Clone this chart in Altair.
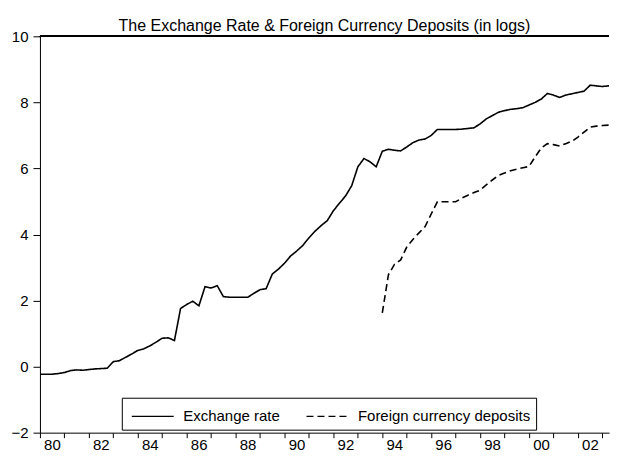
import altair as alt
import pandas as pd

# Quarterly observations (decimal year)
er_start = 1980.0
exchange_rate = [
    -0.23, -0.23, -0.23, -0.21,   # 1980
    -0.18, -0.12, -0.10, -0.11,   # 1981
    -0.09, -0.07, -0.06, -0.05,   # 1982
    0.15, 0.18, 0.28, 0.38,       # 1983
    0.49, 0.54, 0.63, 0.74,       # 1984
    0.86, 0.87, 0.79, 1.76,       # 1985
    1.88, 1.98, 1.84, 2.42,       # 1986
    2.38, 2.45, 2.12, 2.10,       # 1987
    2.10, 2.10, 2.10, 2.22,       # 1988
    2.33, 2.36, 2.80, 2.95,       # 1989
    3.13, 3.35, 3.50, 3.67,       # 1990
    3.90, 4.10, 4.27, 4.42,       # 1991
    4.72, 4.95, 5.17, 5.48,       # 1992
    6.05, 6.30, 6.20, 6.05,       # 1993
    6.52, 6.58, 6.55, 6.53,       # 1994
    6.65, 6.78, 6.86, 6.89,       # 1995
    7.00, 7.18, 7.18, 7.18,       # 1996
    7.18, 7.19, 7.21, 7.23,       # 1997
    7.35, 7.50, 7.60, 7.70,       # 1998
    7.75, 7.79, 7.81, 7.84,       # 1999
    7.92, 8.00, 8.10, 8.27,       # 2000
    8.22, 8.15, 8.22, 8.26,       # 2001
    8.30, 8.34, 8.52, 8.50,       # 2002
    8.48, 8.50, 8.52,             # 2003
]

fx_start = 1994.0
foreign_deposits = [
    1.63, 2.78, 3.10, 3.23,       # 1994
    3.62, 3.85, 4.05, 4.24,       # 1995
    4.62, 4.99, 4.99, 4.99,       # 1996
    4.99, 5.10, 5.19, 5.27,       # 1997
    5.34, 5.50, 5.65, 5.79,       # 1998
    5.86, 5.93, 5.98, 6.02,       # 1999
    6.06, 6.35, 6.62, 6.75,       # 2000
    6.72, 6.68, 6.75, 6.82,       # 2001
    6.95, 7.10, 7.25, 7.28,       # 2002
    7.30, 7.31, 7.32,             # 2003
]

series_names = ["Exchange rate", "Foreign currency deposits"]
y_ticks = [-2, 0, 2, 4, 6, 8, 10]
x_ticks = list(range(1980, 2004))

rows = []
for i, v in enumerate(exchange_rate):
    rows.append({"t": er_start + i * 0.25, "v": v, "series": series_names[0]})
for i, v in enumerate(foreign_deposits):
    rows.append({"t": fx_start + i * 0.25, "v": v, "series": series_names[1]})
df = pd.DataFrame(rows)

FONT = "Liberation Sans"

x_scale = alt.Scale(domain=[1980, 2003.27], nice=False, zero=False)
y_scale = alt.Scale(domain=[-2, 10], nice=False)

lines = alt.Chart(df).mark_line(color="black", strokeWidth=1.6, clip=True).encode(
    x=alt.X("t:Q", scale=x_scale,
            axis=alt.Axis(values=x_ticks, format="d", title=None, grid=False,
                          labelExpr="datum.value % 2 == 0 ? substring(datum.label, 2) : ''",
                          labelOffset={"condition": {"test": "datum.value % 2 == 1", "value": 0},
                                       "value": 12},
                          labelOverlap=False, labelFlush=False,
                          tickSize=5, labelPadding=0, labelFontSize=15,
                          labelFont=FONT, labelColor="black",
                          domainColor="black", tickColor="black")),
    y=alt.Y("v:Q", scale=y_scale,
            axis=alt.Axis(values=y_ticks, title=None, grid=False, tickSize=7,
                          labelPadding=5, labelFontSize=15, labelFont=FONT,
                          labelColor="black", domainColor="black", tickColor="black",
                          minExtent=32, maxExtent=32)),
    strokeDash=alt.StrokeDash(
        "series:N",
        scale=alt.Scale(domain=series_names, range=[[1, 0], [7, 4]]),
        legend=alt.Legend(title=None, orient="none", direction="horizontal",
                          legendX=82, legendY=362, columns=2,
                          symbolType="M-1.68,0H1.68", symbolSize=625,
                          symbolOffset=12.5, symbolStrokeWidth=1.2,
                          symbolStrokeColor="black", symbolFillColor="transparent",
                          strokeColor="black", padding=5, fillColor="white",
                          labelFontSize=15, labelFont=FONT, labelColor="black",
                          labelLimit=0, columnPadding=21, labelOffset=17),
    ),
    detail="series:N",
)

top_rule = alt.Chart(df).mark_rule(color="black", strokeWidth=1.2).encode(
    y=alt.datum(10)
)

chart = alt.layer(lines, top_rule).properties(
    width=570,
    height=397,
    padding={"left": 0, "top": 9, "right": 0, "bottom": 0},
    background="white",
    title=alt.TitleParams(
        "The Exchange Rate & Foreign Currency Deposits (in logs)",
        font=FONT, fontSize=16, fontWeight="normal", color="black",
        anchor="middle", offset=-4.5,
    ),
).configure_view(stroke=None)

chart.save("out.html", embed_options={"renderer": "svg", "actions": False})
